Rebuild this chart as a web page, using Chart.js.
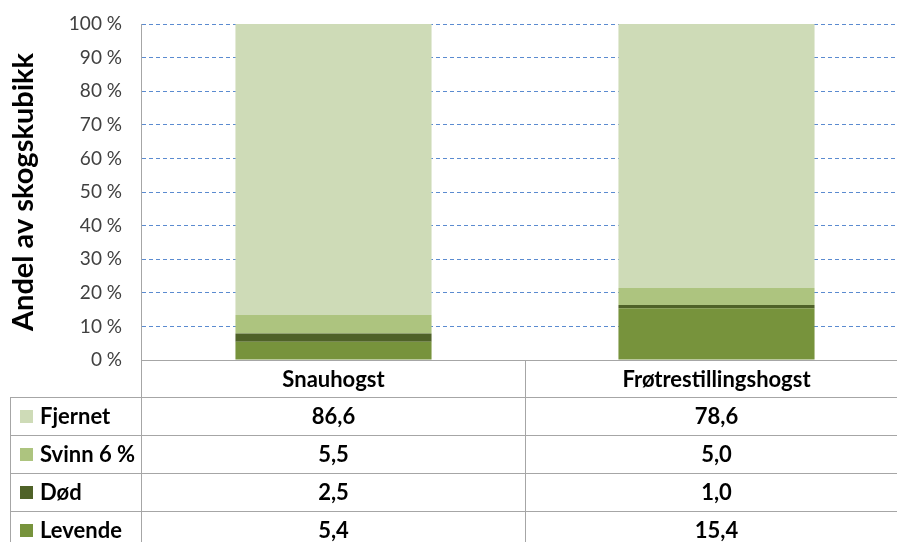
<!DOCTYPE html>
<html>
<head>
<meta charset="utf-8">
<script src="https://cdn.jsdelivr.net/npm/chart.js@4"></script>
<style>
html,body{margin:0;padding:0;background:#fff;overflow:hidden;width:897px;height:542px;}
#wrap{width:910px;height:542px;}
</style>
</head>
<body>
<div id="wrap"><canvas id="c" width="910" height="542"></canvas></div>
<script>
const categories = ["Snauhogst", "Frøtrestillingshogst"];
const seriesNames = ["Levende", "Død", "Svinn 6 %", "Fjernet"];
const levende = [5.4, 15.4];
const dod = [2.5, 1.0];
const svinn = [5.5, 5.0];
const fjernet = [86.6, 78.6];
const yTicks = [0, 10, 20, 30, 40, 50, 60, 70, 80, 90, 100];
const colors = ["#77933c", "#4f6228", "#adc47f", "#cedbb7"];

const FONT = "Lato, 'Open Sans', sans-serif";
const seriesValues = [levende, dod, svinn, fjernet];

const tablePlugin = {
  id: 'dataTable',
  afterDraw(chart) {
    const ctx = chart.ctx;
    const area = chart.chartArea;
    const x = chart.scales.x;
    const W = chart.width;
    const headerH = 37, rowH = 38;
    const tableLeft = 10;
    const headerBottom = area.bottom + headerH;
    ctx.save();
    ctx.strokeStyle = '#a6a6a6';
    ctx.lineWidth = 1;
    ctx.beginPath();
    ctx.moveTo(area.left, Math.round(area.bottom) + 0.5);
    ctx.lineTo(W, Math.round(area.bottom) + 0.5);
    ctx.moveTo(area.left - 0.5, area.top);
    ctx.lineTo(area.left - 0.5, chart.height);
    for (let i = 1; i < categories.length; i++) {
      const sx = Math.round((x.getPixelForValue(i - 1) + x.getPixelForValue(i)) / 2) + 0.5;
      ctx.moveTo(sx, area.bottom);
      ctx.lineTo(sx, chart.height);
    }
    ctx.moveTo(tableLeft + 0.5, headerBottom);
    ctx.lineTo(tableLeft + 0.5, chart.height);
    for (let r = 0; r < 4; r++) {
      const y = Math.round(headerBottom + r * rowH) + 0.5;
      ctx.moveTo(tableLeft, y);
      ctx.lineTo(W, y);
    }
    ctx.stroke();

    ctx.fillStyle = '#000';
    ctx.textBaseline = 'middle';
    ctx.textAlign = 'center';
    ctx.font = "bold 22px " + FONT;
    categories.forEach((c, i) => {
      ctx.fillText(c, x.getPixelForValue(i), area.bottom + headerH / 2 + 1);
    });
    for (let r = 0; r < 4; r++) {
      const si = 3 - r;
      const cy = headerBottom + r * rowH + rowH / 2 + 1;
      ctx.fillStyle = colors[si];
      ctx.fillRect(20, Math.round(cy - 7), 13, 13);
      ctx.fillStyle = '#000';
      ctx.textAlign = 'left';
      ctx.font = "bold 22px " + FONT;
      ctx.fillText(seriesNames[si], 40, cy);
      ctx.textAlign = 'center';
      seriesValues[si].forEach((v, i) => {
        ctx.fillText(v.toFixed(1).replace('.', ','), x.getPixelForValue(i), cy);
      });
    }
    ctx.restore();
  }
};

new Chart(document.getElementById('c'), {
  type: 'bar',
  data: {
    labels: categories,
    datasets: seriesNames.map((n, i) => ({
      label: n,
      data: seriesValues[i],
      backgroundColor: colors[i],
      borderWidth: 0,
      categoryPercentage: 1,
      barPercentage: 0.512
    }))
  },
  plugins: [tablePlugin],
  options: {
    responsive: false,
    animation: false,
    events: [],
    layout: { padding: { top: 24, right: 2, bottom: 182, left: 0 } },
    plugins: { legend: { display: false }, tooltip: { enabled: false } },
    scales: {
      x: { stacked: true, display: false },
      y: {
        stacked: true,
        min: 0, max: 100,
        afterBuildTicks(scale) { scale.ticks = yTicks.map(v => ({ value: v })); },
        afterFit(scale) { scale.width = 142; scale.paddingTop = 0; scale.paddingBottom = 0; },
        ticks: {
          padding: 20,
          color: '#404040',
          font: { family: FONT, size: 19 },
          callback: v => v + ' %'
        },
        grid: {
          drawTicks: false,
          color: ctx => ctx.tick && ctx.tick.value === 0 ? 'rgba(0,0,0,0)' : '#5b8bd0',
          lineWidth: 1
        },
        border: { display: false, dash: [4, 3] },
        title: {
          display: true,
          text: 'Andel av skogskubikk',
          color: '#000',
          font: { family: FONT, size: 29, weight: 'bold' },
          padding: { top: 6, bottom: 0 }
        }
      }
    }
  }
});
</script>
</body>
</html>
